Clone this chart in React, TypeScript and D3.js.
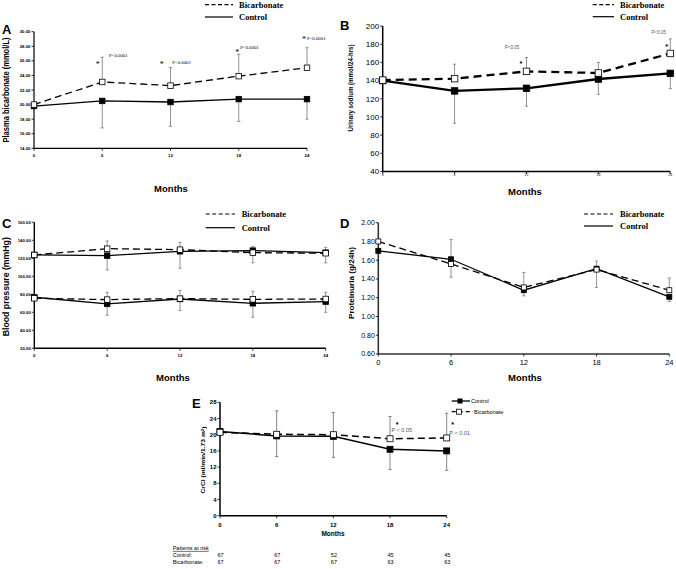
import React from "react";
import * as d3 from "d3";

const months = [0, 6, 12, 18, 24];

// Panel A: plasma bicarbonate (mmol/L)
const aControl = [19.8, 20.5, 20.35, 20.75, 20.75];
const aBicarb = [20.0, 23.1, 22.6, 23.9, 25.05];
const aControlLower = [null, 16.8, 17.0, 17.7, 18.0];
const aBicarbUpper = [21.3, 26.5, 25.1, 26.9, 27.8];
const aTicks = [14, 16, 18, 20, 22, 24, 26, 28, 30];

// Panel B: urinary sodium (mmol/24-hrs)
const bControl = [140, 128.6, 131.5, 141.7, 147.9];
const bBicarb = [140.5, 142.1, 150.1, 148.3, 169.8];
const bControlLower = [null, 93, 111.8, 124.9, 131.1];
const bBicarbUpper = [null, 158, 165.4, 160, 185.8];
const bTicks = [40, 60, 80, 100, 120, 140, 160, 180, 200];

// Panel C: blood pressure (mmHg)
const cControlSys = [123.7, 123, 127.8, 128.5, 126.3];
const cBicarbSys = [123.7, 130.7, 129.6, 126.3, 125.6];
const cControlSysLower = [null, 107, 109, 115, 115];
const cBicarbSysUpper = [null, 139.3, 137.8, 133, 132.2];
const cControlDia = [76.7, 69.3, 74.8, 70, 71.9];
const cBicarbDia = [75.6, 74.1, 75.2, 74.4, 74.8];
const cControlDiaLower = [null, 56.7, 61.9, 54.4, 60];
const cBicarbDiaUpper = [null, 82.2, 84.4, 83.3, 82.2];
const cTicks = [20, 40, 60, 80, 100, 120, 140, 160];

// Panel D: proteinuria (g/24h)
const dControl = [1.7, 1.61, 1.28, 1.51, 1.21];
const dBicarb = [1.8, 1.56, 1.31, 1.5, 1.28];
const dControlUpper = [null, 1.82, null, null, null];
const dControlLower = [null, null, 1.22, 1.31, 1.16];
const dBicarbUpper = [null, null, 1.47, 1.59, 1.41];
const dBicarbLower = [null, 1.42, null, null, null];
const dTicks = [0.6, 0.8, 1.0, 1.2, 1.4, 1.6, 1.8, 2.0];

// Panel E: CrCl (ml/min/1.73 m2)
const eControl = [20.8, 19.7, 19.6, 16.4, 16.0];
const eBicarb = [20.6, 20.1, 20.0, 19.0, 19.2];
const eControlLower = [null, 14.6, 14.4, 11.4, 11.2];
const eBicarbUpper = [null, 25.9, 25.5, 24.5, 25.3];
const eTicks = [0, 4, 8, 12, 16, 20, 24, 28];

const riskControl = [67, 67, 52, 45, 45];
const riskBicarb = [67, 67, 67, 63, 63];

const SANS = "'Liberation Sans', Arial, sans-serif";
const SERIF = "'Liberation Serif', 'Times New Roman', serif";

type Ser = {
  values: number[];
  open: boolean;
  lower?: (number | null)[];
  upper?: (number | null)[];
};
type Ann = { t: string; m: number; v: number; dx: number; anchor?: string; size: number; fill?: string; family?: string; weight?: string };

function Panel(p: any) {
  const x = d3.scaleLinear().domain([0, 24]).range([p.x0, p.x1]);
  const y = d3.scaleLinear().domain([p.yMin, p.yMax]).range([p.yBot, p.yTop]);
  const line = d3
    .line<number>()
    .x((_, i) => x(months[i]))
    .y((v) => y(v));
  const series: Ser[] = p.series;
  const ms = p.marker;
  const cap = p.cap ?? 1.6;
  return (
    <g>
      {/* axes */}
      <line x1={p.x0} x2={p.x0} y1={p.yTop} y2={p.yBot} stroke={p.axisColor ?? "#000"} strokeWidth={p.axisW ?? 1.3} />
      <line x1={p.x0} x2={p.x1} y1={p.yBot} y2={p.yBot} stroke={p.axisColor ?? "#000"} strokeWidth={p.axisW ?? 1.3} />
      {p.yTicks.map((t: number) => (
        <g key={"yt" + t}>
          <line x1={p.x0 - 2.5} x2={p.x0} y1={y(t)} y2={y(t)} stroke="#000" strokeWidth={0.8} />
          <text
            x={p.x0 - 3.5}
            y={y(t)}
            dy="0.35em"
            textAnchor="end"
            fontSize={p.yFont}
            fontWeight={p.tickWeight ?? "normal"}
            fontFamily={SANS}
          >
            {p.fmt(t)}
          </text>
        </g>
      ))}
      {months.map((m) => (
        <g key={"xt" + m}>
          <line x1={x(m)} x2={x(m)} y1={p.yBot} y2={p.yBot + 2.5} stroke="#000" strokeWidth={0.8} />
          <text
            x={x(m)}
            y={p.xLabelY}
            dy="0.35em"
            textAnchor="middle"
            fontSize={p.xFont}
            fontWeight={p.tickWeight ?? "normal"}
            fontFamily={SANS}
          >
            {m}
          </text>
        </g>
      ))}
      {/* lines */}
      {series.map((s, i) => (
        <path
          key={"l" + i}
          d={line(s.values) as string}
          fill="none"
          stroke="#000"
          strokeWidth={p.lineW}
          strokeDasharray={s.open ? p.dash : undefined}
        />
      ))}
      {/* error bars */}
      {series.map((s, i) =>
        months.map((m, j) => {
          const out: any[] = [];
          const ends = [s.lower?.[j], s.upper?.[j]];
          ends.forEach((b, k) => {
            if (b === null || b === undefined) return;
            out.push(
              <g key={`e${i}-${j}-${k}`} stroke={p.errColor ?? "#777"} strokeWidth={0.8}>
                <line x1={x(m)} x2={x(m)} y1={y(s.values[j])} y2={y(b)} />
                <line x1={x(m) - cap} x2={x(m) + cap} y1={y(b)} y2={y(b)} />
              </g>
            );
          });
          return out;
        })
      )}
      {/* markers */}
      {series.map((s, i) =>
        s.values.map((v, j) => (
          <rect
            key={`m${i}-${j}`}
            x={x(months[j]) - ms / 2}
            y={y(v) - ms / 2}
            width={ms}
            height={ms}
            fill={s.open ? "#fff" : "#000"}
            stroke="#000"
            strokeWidth={0.8}
          />
        ))
      )}
      {/* annotations */}
      {(p.anns as Ann[]).map((a, i) => (
        <text
          key={"a" + i}
          x={x(a.m) + a.dx}
          y={y(a.v)}
          dy={a.t === "*" ? "0.7em" : "0.35em"}
          textAnchor={a.anchor ?? "start"}
          fontSize={a.size}
          fill={a.fill ?? "#000"}
          fontFamily={a.family ?? SERIF}
          fontWeight={a.weight ?? "normal"}
        >
          {a.t}
        </text>
      ))}
      {/* letter */}
      <text x={p.letter.x} y={p.letter.y} dy="0.35em" fontSize={p.letter.size} fontWeight="bold" fontFamily={SANS}>
        {p.letter.t}
      </text>
      {/* y title */}
      <text
        transform={`translate(${p.yTitle.x},${p.yTitle.y}) rotate(-90)`}
        textAnchor="middle"
        dy="0.35em"
        fontSize={p.yTitle.size}
        fontWeight="bold"
        fontFamily={SANS}
        textLength={p.yTitle.len}
        lengthAdjust="spacingAndGlyphs"
      >
        {p.yTitle.t}
        {p.yTitle.sup ? (
          <>
            <tspan dy="-0.4em" fontSize={p.yTitle.size * 0.65}>
              2
            </tspan>
            <tspan dy="0.4em">)</tspan>
          </>
        ) : null}
      </text>
      {/* x title */}
      <text
        x={p.xTitle.x}
        y={p.xTitle.y}
        dy="0.35em"
        textAnchor="middle"
        fontSize={p.xTitle.size}
        fontWeight="bold"
        fontFamily={SANS}
      >
        Months
      </text>
      {/* legend */}
      {p.legend ? (
        <g>
          <line
            x1={p.legend.x0}
            x2={p.legend.x1}
            y1={p.legend.y0}
            y2={p.legend.y0}
            stroke="#000"
            strokeWidth={1.2}
            strokeDasharray="4,2.5"
          />
          <text x={p.legend.tx} y={p.legend.y0} dy="0.35em" fontSize={p.legend.size} fontWeight={p.legend.weight} fontFamily={SERIF}>
            Bicarbonate
          </text>
          <line x1={p.legend.x0} x2={p.legend.x1} y1={p.legend.y1} y2={p.legend.y1} stroke="#000" strokeWidth={1.2} />
          <text x={p.legend.tx} y={p.legend.y1} dy="0.35em" fontSize={p.legend.size} fontWeight={p.legend.weight} fontFamily={SERIF}>
            Control
          </text>
        </g>
      ) : null}
    </g>
  );
}

const f2 = d3.format(".2f");
const f0 = d3.format("d");

export default function App() {
  const eX = d3.scaleLinear().domain([0, 24]).range([220, 446.7]);
  return (
    <svg
      width={676}
      height={569}
      viewBox="0 0 676 569"
      style={{ position: "absolute", left: 0, top: 0, background: "#fff" }}
    >
      <rect width={676} height={569} fill="#fff" />
      <Panel
        x0={34}
        x1={307}
        yTop={31.7}
        yBot={148.3}
        yMin={14}
        yMax={30}
        yTicks={aTicks}
        fmt={f2}
        yFont={4.3}
        xFont={4.3}
        tickWeight="bold"
        xLabelY={155}
        axisW={1.2}
        lineW={1.3}
        dash="7,4"
        marker={5.5}
        series={[
          { values: aControl, open: false, lower: aControlLower },
          { values: aBicarb, open: true, upper: aBicarbUpper },
        ]}
        anns={[
          { t: "*", m: 6, v: 25.9, dx: -4.5, anchor: "middle", size: 8 },
          { t: "P<0.0001", m: 6, v: 26.7, dx: 6.8, size: 4.8 },
          { t: "*", m: 12, v: 25.95, dx: -8.8, anchor: "middle", size: 8 },
          { t: "P<0.0001", m: 12, v: 25.84, dx: 1.8, size: 4.8 },
          { t: "*", m: 18, v: 27.55, dx: -1.6, anchor: "middle", size: 8 },
          { t: "P<0.0001", m: 18, v: 27.86, dx: 1.4, size: 4.8 },
          { t: "*", m: 24, v: 29.3, dx: -3, anchor: "middle", size: 8 },
          { t: "P<0.0001", m: 24, v: 29.1, dx: 0, size: 4.8 },
        ]}
        letter={{ t: "A", x: 2, y: 29, size: 13 }}
        yTitle={{ t: "Plasma bicarbonate (mmol/L)", x: 6, y: 90, size: 8.5, len: 105 }}
        xTitle={{ x: 171, y: 189, size: 9.5 }}
        legend={{ x0: 205, x1: 233, y0: 4.7, y1: 17, tx: 239, size: 8.5, weight: "bold" }}
      />
      <Panel
        x0={382.7}
        x1={670.3}
        yTop={26}
        yBot={171.5}
        yMin={40}
        yMax={200}
        yTicks={bTicks}
        fmt={f0}
        yFont={8}
        xFont={3.5}
        xLabelY={175}
        axisW={1.5}
        lineW={2.3}
        dash="8,5"
        marker={6.5}
        series={[
          { values: bControl, open: false, lower: bControlLower },
          { values: bBicarb, open: true, upper: bBicarbUpper },
        ]}
        anns={[
          { t: "P<0.05", m: 12, v: 176.6, dx: -14.5, anchor: "middle", size: 4.5, fill: "#555", family: SANS },
          { t: "*", m: 12, v: 161.5, dx: -5.5, anchor: "middle", size: 7.5, family: SANS, weight: "bold" },
          { t: "P<0.05", m: 24, v: 193, dx: -11.6, anchor: "middle", size: 4.5, fill: "#555", family: SANS },
          { t: "*", m: 24, v: 180, dx: -3.6, anchor: "middle", size: 7.5, family: SANS, weight: "bold" },
        ]}
        letter={{ t: "B", x: 340, y: 25, size: 13 }}
        yTitle={{ t: "Urinary sodium (mmol/24-hrs)", x: 350, y: 88, size: 8, len: 87 }}
        xTitle={{ x: 525, y: 191.5, size: 9.5 }}
        legend={{ x0: 592.7, x1: 614, y0: 4.7, y1: 16.7, tx: 620, size: 8.5, weight: "bold" }}
      />
      <Panel
        x0={34.3}
        x1={325.7}
        yTop={222.3}
        yBot={348.3}
        yMin={20}
        yMax={160}
        yTicks={cTicks}
        fmt={f2}
        yFont={4.3}
        xFont={4.3}
        tickWeight="bold"
        xLabelY={355.7}
        axisW={1.4}
        lineW={1.3}
        dash="7,4"
        marker={5.5}
        series={[
          { values: cControlSys, open: false, lower: cControlSysLower },
          { values: cBicarbSys, open: true, upper: cBicarbSysUpper },
          { values: cControlDia, open: false, lower: cControlDiaLower },
          { values: cBicarbDia, open: true, upper: cBicarbDiaUpper },
        ]}
        anns={[]}
        letter={{ t: "C", x: 2, y: 223, size: 13 }}
        yTitle={{ t: "Blood pressure (mmHg)", x: 6, y: 286.7, size: 8.5, len: 99 }}
        xTitle={{ x: 173, y: 378, size: 9.5 }}
        legend={{ x0: 205.7, x1: 235, y0: 214, y1: 227.7, tx: 241.7, size: 8.5, weight: "bold" }}
      />
      <Panel
        x0={378.3}
        x1={669.3}
        yTop={222.7}
        yBot={354}
        yMin={0.6}
        yMax={2.0}
        yTicks={dTicks}
        fmt={f2}
        yFont={7}
        xFont={7.5}
        xLabelY={362}
        axisW={1.6}
        axisColor="#333"
        lineW={1.3}
        dash="7,4"
        marker={5}
        series={[
          { values: dControl, open: false, upper: dControlUpper, lower: dControlLower },
          { values: dBicarb, open: true, upper: dBicarbUpper, lower: dBicarbLower },
        ]}
        anns={[]}
        letter={{ t: "D", x: 340, y: 223, size: 13 }}
        yTitle={{ t: "Proteinuria (g/24h)", x: 351, y: 283, size: 8, len: 72 }}
        xTitle={{ x: 525, y: 378, size: 9.5 }}
        legend={{ x0: 584, x1: 613, y0: 214, y1: 226, tx: 620, size: 8.5, weight: "bold" }}
      />
      <Panel
        x0={220}
        x1={446.7}
        yTop={402.3}
        yBot={515.7}
        yMin={0}
        yMax={28}
        yTicks={eTicks}
        fmt={f0}
        yFont={6}
        xFont={6}
        tickWeight="bold"
        xLabelY={525}
        axisW={1.5}
        lineW={1.5}
        dash="7,4"
        marker={6}
        errColor="#666"
        series={[
          { values: eControl, open: false, lower: eControlLower },
          { values: eBicarb, open: true, upper: eBicarbUpper },
        ]}
        anns={[
          { t: "*", m: 18, v: 23.1, dx: 7, anchor: "middle", size: 7, family: SANS, weight: "bold" },
          { t: "P < 0.05", m: 18, v: 21.1, dx: 1.5, size: 5.5, fill: "#555", family: SANS },
          { t: "*", m: 24, v: 23.1, dx: 6, anchor: "middle", size: 7, family: SANS, weight: "bold" },
          { t: "P < 0.01", m: 24, v: 20.3, dx: 2.6, size: 5.5, fill: "#555", family: SANS },
        ]}
        letter={{ t: "E", x: 192, y: 403.3, size: 13 }}
        yTitle={{ t: "CrCl (ml/min/1.73 m", sup: true, x: 203.3, y: 460, size: 6.2, len: 67 }}
        xTitle={{ x: 333, y: 534, size: 6.5 }}
      />
      {/* legend E */}
      <g>
        <line x1={451.7} x2={470} y1={401} y2={401} stroke="#000" strokeWidth={1.3} />
        <rect x={457.5} y={398.5} width={5} height={5} fill="#000" />
        <text x={471} y={401} dy="0.35em" fontSize={5.5} fontFamily={SANS}>
          Control
        </text>
        <line x1={451.7} x2={473} y1={411.7} y2={411.7} stroke="#000" strokeWidth={1.3} strokeDasharray="4,3" />
        <rect x={456.5} y={409.2} width={5} height={5} fill="#fff" stroke="#000" strokeWidth={0.8} />
        <text x={474} y={411.7} dy="0.35em" fontSize={5.5} fontFamily={SANS}>
          Bicarbonate
        </text>
      </g>
      {/* patients at risk */}
      <g fontFamily={SANS} fontSize={5.5}>
        <text x={172.7} y={548} dy="0.35em" textDecoration="underline">
          Patients at risk
        </text>
        <text x={172.7} y={555} dy="0.35em">
          Control:
        </text>
        <text x={172.7} y={562} dy="0.35em">
          Bicarbonate:
        </text>
        {riskControl.map((n, i) => (
          <text key={"rc" + i} x={eX(months[i]) - 2.5} y={555} dy="0.35em">
            {n}
          </text>
        ))}
        {riskBicarb.map((n, i) => (
          <text key={"rb" + i} x={eX(months[i]) - 2.5} y={562} dy="0.35em">
            {n}
          </text>
        ))}
      </g>
    </svg>
  );
}
